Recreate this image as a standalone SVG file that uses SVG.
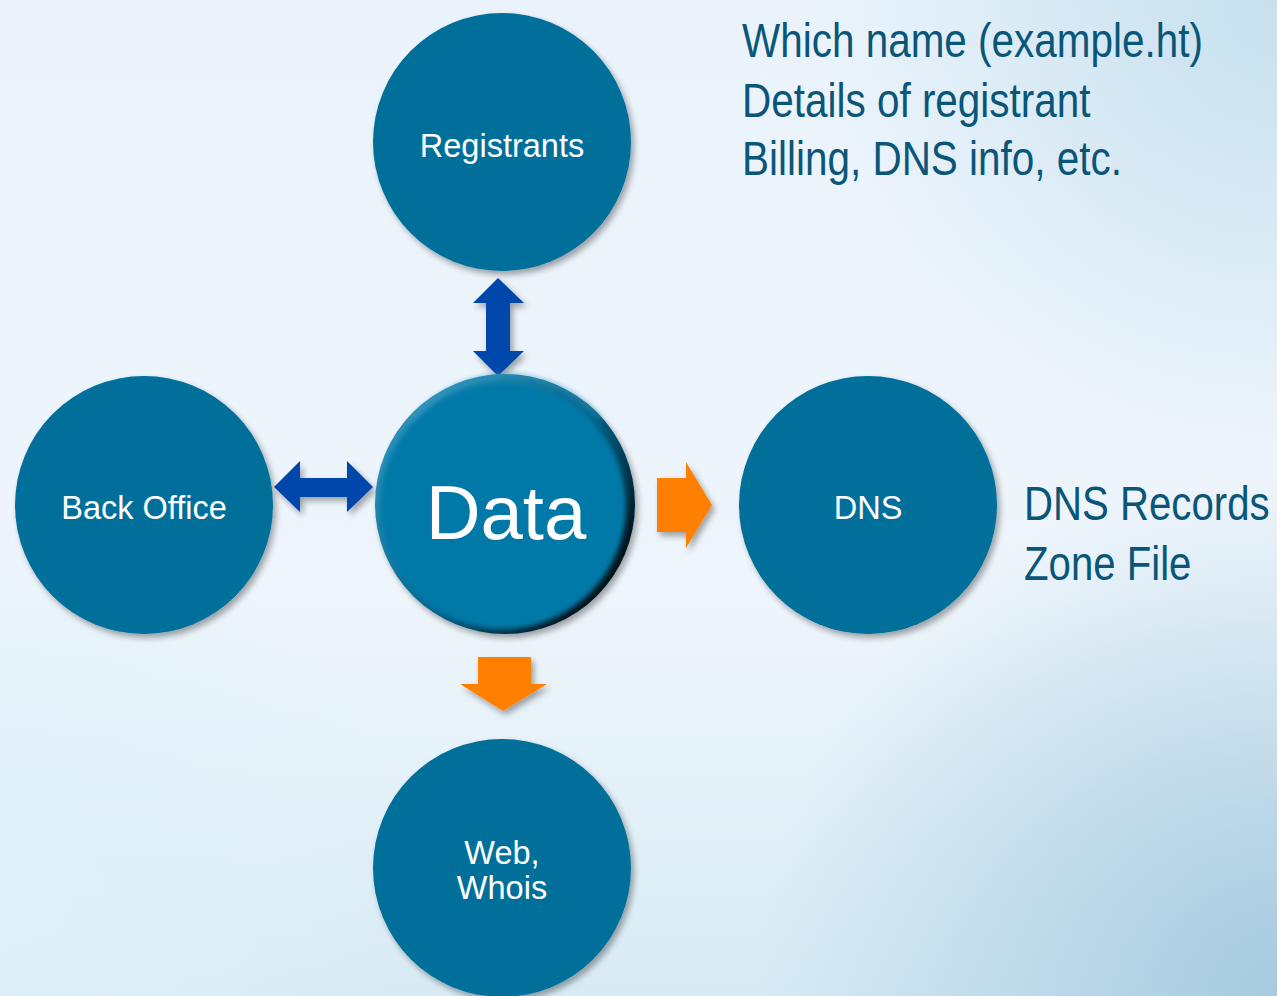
<svg xmlns="http://www.w3.org/2000/svg" width="1277" height="996" viewBox="0 0 1277 996">
<defs>
<style>
.node{fill:#006f9b}
.lbl{font-family:"Liberation Sans",Arial,sans-serif;font-size:32.5px;fill:#ffffff;text-anchor:middle}
.big{font-family:"Liberation Sans",Arial,sans-serif;font-size:76px;fill:#ffffff;text-anchor:middle}
.note{font-family:"Liberation Sans",Arial,sans-serif;font-size:49px;fill:#0a5679}
.blue{fill:#0047ab}
.orange{fill:#ff7f00}
</style>
<linearGradient id="bg" x1="0" y1="0" x2="0" y2="1">
<stop offset="0" stop-color="#eaf3fb"/>
<stop offset="0.6" stop-color="#eef5fb"/>
<stop offset="1" stop-color="#d8ebf5"/>
</linearGradient>
<radialGradient id="tr" cx="1277" cy="0" r="450" gradientUnits="userSpaceOnUse">
<stop offset="0" stop-color="#c6e0ee" stop-opacity="1"/>
<stop offset="1" stop-color="#c6e0ee" stop-opacity="0"/>
</radialGradient>
<radialGradient id="br" cx="1277" cy="996" r="520" gradientUnits="userSpaceOnUse">
<stop offset="0" stop-color="#a6cadf" stop-opacity="1"/>
<stop offset="1" stop-color="#a6cadf" stop-opacity="0"/>
</radialGradient>
<radialGradient id="bl" cx="0" cy="900" r="400" gradientUnits="userSpaceOnUse">
<stop offset="0" stop-color="#dff0f9" stop-opacity="1"/>
<stop offset="1" stop-color="#dff0f9" stop-opacity="0"/>
</radialGradient>
<linearGradient id="rim" x1="0.2" y1="0.1" x2="0.95" y2="0.7">
<stop offset="0" stop-color="#2a8fb8"/>
<stop offset="0.55" stop-color="#05658c"/>
<stop offset="1" stop-color="#00131c"/>
</linearGradient>
<filter id="shadow" x="-20%" y="-20%" width="150%" height="150%">
<feGaussianBlur in="SourceAlpha" stdDeviation="3"/>
<feOffset dx="3" dy="4" result="o"/>
<feComponentTransfer><feFuncA type="linear" slope="0.35"/></feComponentTransfer>
<feMerge><feMergeNode/><feMergeNode in="SourceGraphic"/></feMerge>
</filter>
<filter id="soft" x="-10%" y="-10%" width="120%" height="120%">
<feGaussianBlur stdDeviation="2.5"/>
</filter>
</defs>
<rect x="0" y="0" width="1277" height="996" fill="url(#bg)"/>
<rect x="0" y="0" width="1277" height="996" fill="url(#bl)"/>
<rect x="0" y="0" width="1277" height="996" fill="url(#tr)"/>
<rect x="0" y="0" width="1277" height="996" fill="url(#br)"/>

<g id="connectors">
<path class="blue" filter="url(#shadow)" d="M498,278 L524,303 L510,303 L510,351 L524,351 L498,376 L473,351 L486,351 L486,303 L473,303 Z"/>
<path class="blue" filter="url(#shadow)" d="M274,487 L300,461 L300,478 L347,478 L347,461 L373,487 L347,512 L347,497 L300,497 L300,512 Z"/>
<path class="orange" filter="url(#shadow)" d="M657,478 L686,478 L686,462 L712,505 L686,548 L686,532 L657,532 Z"/>
<path class="orange" filter="url(#shadow)" d="M478,657 L531,657 L531,684 L547,684 L503,711 L460,684 L478,684 Z"/>
</g>

<g id="registrants">
<circle class="node" cx="502" cy="142" r="129" filter="url(#shadow)"/>
<text class="lbl" x="502" y="157">Registrants</text>
</g>
<g id="back-office">
<circle class="node" cx="144" cy="505" r="129" filter="url(#shadow)"/>
<text class="lbl" x="144" y="519">Back Office</text>
</g>
<g id="dns">
<circle class="node" cx="868" cy="505" r="129" filter="url(#shadow)"/>
<text class="lbl" x="868" y="519">DNS</text>
</g>
<g id="web-whois">
<circle class="node" cx="502" cy="868" r="129" filter="url(#shadow)"/>
<text class="lbl" x="502" y="864">Web,</text>
<text class="lbl" x="502" y="899">Whois</text>
</g>
<g id="data">
<circle cx="505" cy="504" r="130" fill="url(#rim)" filter="url(#shadow)"/>
<circle cx="503" cy="506" r="123" fill="#0079a8" filter="url(#soft)"/>
<path d="M412,420 A122,122 0 0 1 600,418" fill="none" stroke="#3a9cc4" stroke-width="3" stroke-opacity="0.6" filter="url(#soft)"/>
<text class="big" x="506" y="539">Data</text>
</g>

<g id="notes">
<text class="note" transform="translate(742,57) scale(0.826,1)">Which name (example.ht)</text>
<text class="note" transform="translate(742,117) scale(0.826,1)">Details of registrant</text>
<text class="note" transform="translate(742,175) scale(0.826,1)">Billing, DNS info, etc.</text>
<text class="note" transform="translate(1024,520) scale(0.82,1)">DNS Records</text>
<text class="note" transform="translate(1024,580) scale(0.82,1)">Zone File</text>
</g>
</svg>
